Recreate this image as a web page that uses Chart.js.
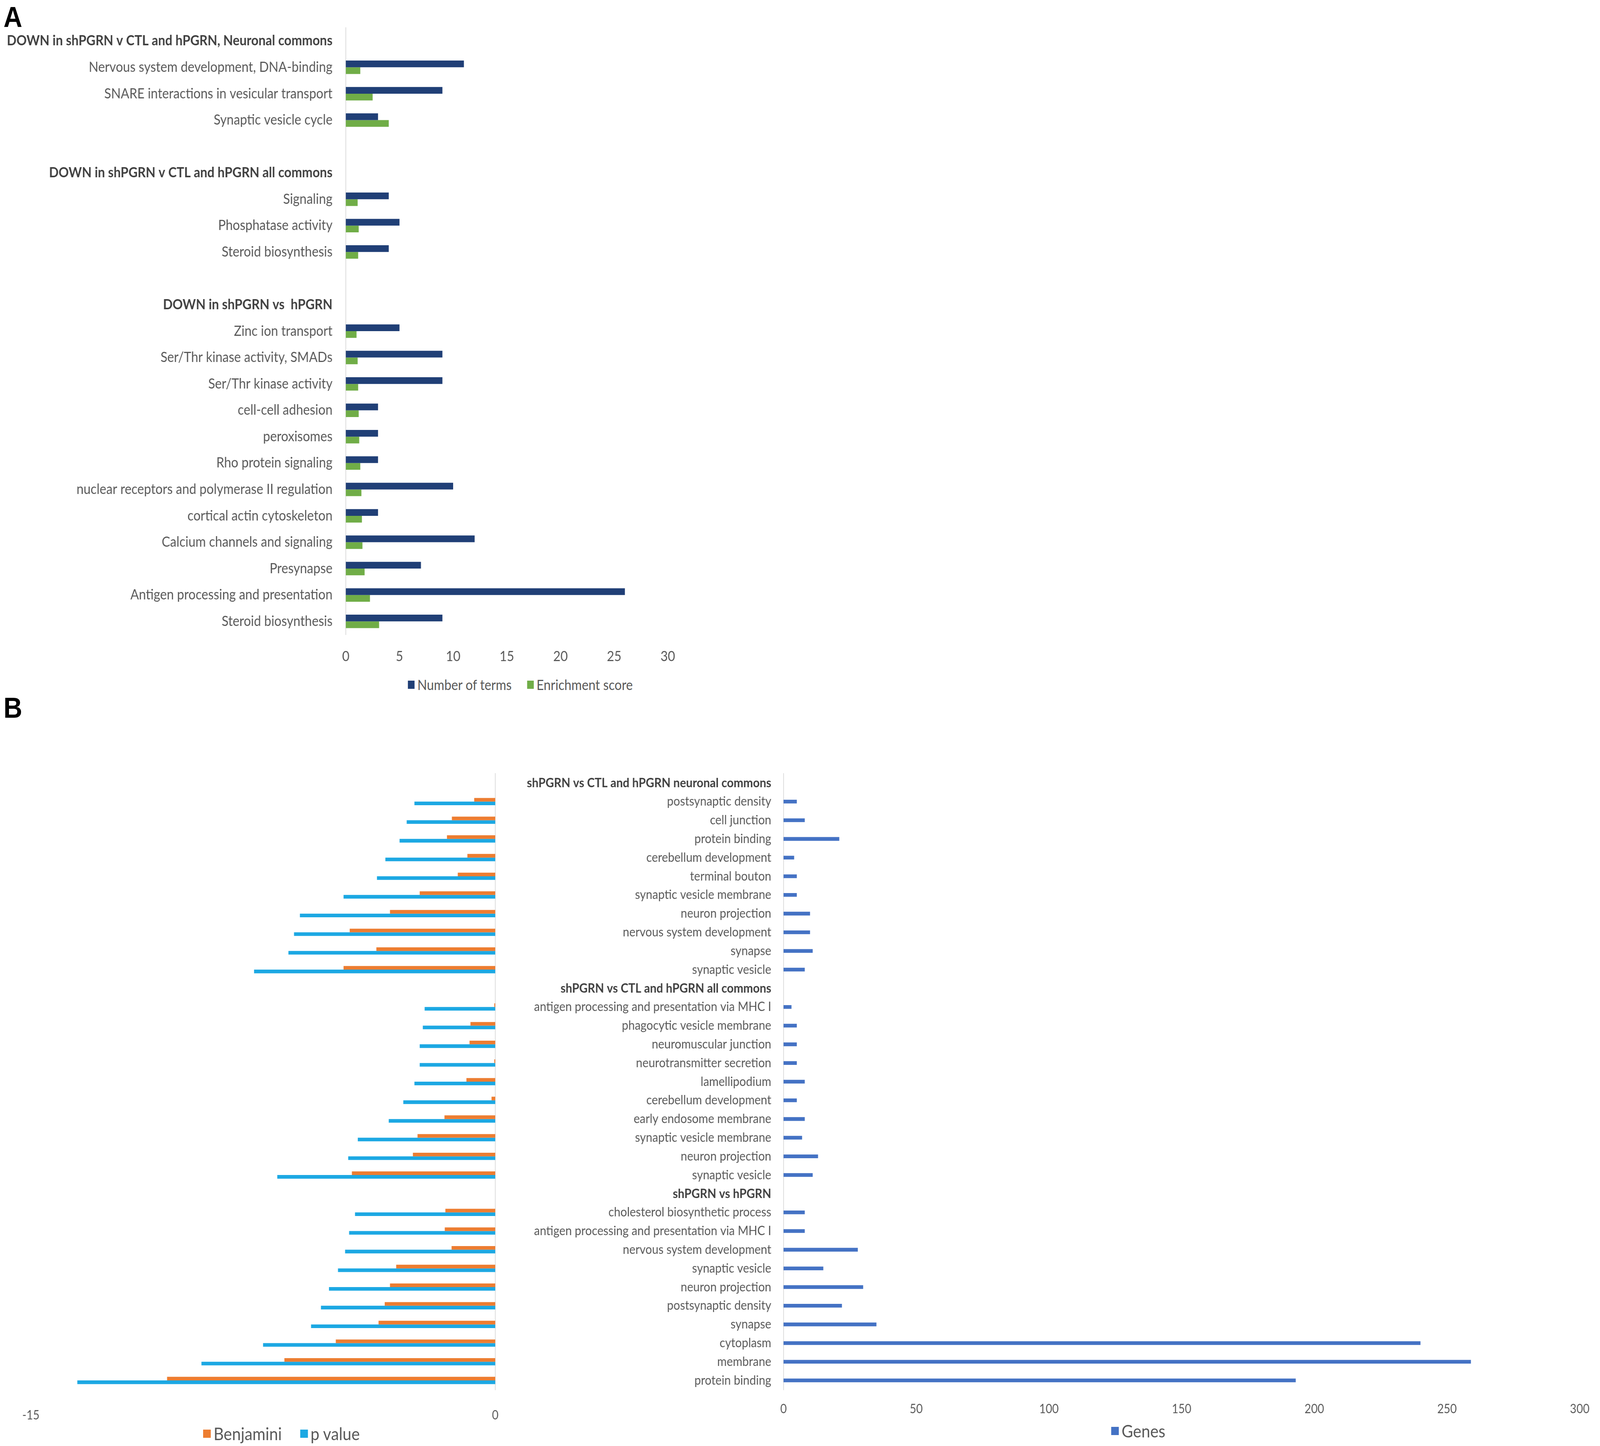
<!DOCTYPE html>
<html>
<head>
<meta charset="utf-8">
<script src="https://cdn.jsdelivr.net/npm/chart.js@4.4.1/dist/chart.umd.min.js"></script>
<style>
  html, body { margin: 0; padding: 0; background: #fff; overflow: hidden; }
  #frame { position: relative; overflow: hidden; width: 4562px; height: 3703px; }
  #page { width: 4562px; height: 3703px; position: absolute; left: 0; top: 0; transform-origin: 0 0; background: #fff; }
  canvas { position: absolute; }
  .panel { position: absolute; font: bold 74px "Liberation Sans", Arial, sans-serif; line-height: 1; color: #000; }
  .legend { position: absolute; display: flex; align-items: center; white-space: nowrap;
            color: #595959; font-family: Lato, "Open Sans", sans-serif; line-height: 1.2; }
  .legend .item { display: flex; align-items: center; }
  .legend i { display: inline-block; }
</style>
</head>
<body>
<div id="frame">
<div id="page">
  <div class="panel" style="left:10px; top:7px">A</div>
  <div class="panel" style="left:10px; top:1776px">B</div>
  <canvas id="chartA" width="1960" height="1720" style="left:0; top:0"></canvas>
  <canvas id="chartB1" width="1500" height="1760" style="left:0; top:1900px"></canvas>
  <canvas id="chartB2" width="3112" height="1760" style="left:1450px; top:1900px"></canvas>
  <div class="legend" id="legendA" style="left:1163px; top:1732px; font-size:36px"></div>
  <div class="legend" id="legendB1" style="left:579px; top:3644px; font-size:45px"></div>
  <div class="legend" id="legendB2" style="left:3168px; top:3637px; font-size:45px"></div>
</div>
</div>
<script>
// ---- panel A data ----
const termsA = [
  'DOWN in shPGRN v CTL and hPGRN, Neuronal commons',
  'Nervous system development, DNA-binding',
  'SNARE interactions in vesicular transport',
  'Synaptic vesicle cycle',
  '',
  'DOWN in shPGRN v CTL and hPGRN all commons',
  'Signaling',
  'Phosphatase activity',
  'Steroid biosynthesis',
  '',
  'DOWN in shPGRN vs  hPGRN',
  'Zinc ion transport',
  'Ser/Thr kinase activity, SMADs',
  'Ser/Thr kinase activity',
  'cell-cell adhesion',
  'peroxisomes',
  'Rho protein signaling',
  'nuclear receptors and polymerase II regulation',
  'cortical actin cytoskeleton',
  'Calcium channels and signaling',
  'Presynapse',
  'Antigen processing and presentation',
  'Steroid biosynthesis'
];
const headingsA = [0, 5, 10];
const numberOfTerms = [null, 11, 9, 3, null, null, 4, 5, 4, null, null, 5, 9, 9, 3, 3, 3, 10, 3, 12, 7, 26, 9];
const enrichmentScore = [null, 1.35, 2.5, 4.0, null, null, 1.1, 1.2, 1.15, null, null, 1.0, 1.1, 1.15, 1.2, 1.25, 1.35, 1.45, 1.5, 1.55, 1.75, 2.25, 3.1];
const ticksA = [0, 5, 10, 15, 20, 25, 30];

// ---- panel B data ----
const termsB = [
  'shPGRN vs CTL and hPGRN neuronal commons',
  'postsynaptic density', 'cell junction', 'protein binding', 'cerebellum development',
  'terminal bouton', 'synaptic vesicle membrane', 'neuron projection',
  'nervous system development', 'synapse', 'synaptic vesicle',
  'shPGRN vs CTL and hPGRN all commons',
  'antigen processing and presentation via MHC I', 'phagocytic vesicle membrane',
  'neuromuscular junction', 'neurotransmitter secretion', 'lamellipodium',
  'cerebellum development', 'early endosome membrane', 'synaptic vesicle membrane',
  'neuron projection', 'synaptic vesicle',
  'shPGRN vs hPGRN',
  'cholesterol biosynthetic process', 'antigen processing and presentation via MHC I',
  'nervous system development', 'synaptic vesicle', 'neuron projection',
  'postsynaptic density', 'synapse', 'cytoplasm', 'membrane', 'protein binding'
];
const headingsB = [0, 11, 22];
const benjamini = [null, -0.68, -1.4, -1.56, -0.9, -1.21, -2.44, -3.4, -4.7, -3.84, -4.9,
  null, -0.03, -0.8, -0.83, -0.03, -0.93, -0.12, -1.64, -2.51, -2.66, -4.63,
  null, -1.61, -1.63, -1.41, -3.2, -3.4, -3.57, -3.77, -5.15, -6.81, -10.6];
const pValue = [null, -2.61, -2.86, -3.09, -3.55, -3.82, -4.9, -6.31, -6.5, -6.68, -7.79,
  null, -2.28, -2.34, -2.44, -2.44, -2.61, -2.97, -3.44, -4.44, -4.75, -7.04,
  null, -4.53, -4.72, -4.85, -5.08, -5.37, -5.63, -5.95, -7.5, -9.49, -13.5];
const genes = [null, 5, 8, 21, 4, 5, 5, 10, 10, 11, 8,
  null, 3, 5, 5, 5, 8, 5, 8, 7, 13, 11,
  null, 8, 8, 28, 15, 30, 22, 35, 240, 259, 193];
const ticksB1 = [-15, 0];
const ticksB2 = [0, 50, 100, 150, 200, 250, 300];

// the window may be narrower than 4562 (browsers cap it), so map the
// 4562x3703 layout onto the real viewport
const sx = window.innerWidth / 4562;
const sy = window.innerHeight / 3703;
document.getElementById('page').style.transform = 'scale(' + sx + ',' + sy + ')';
const frame = document.getElementById('frame');
frame.style.width = window.innerWidth + 'px';
frame.style.height = window.innerHeight + 'px';

// ---- styles ----
const FONT = 'Lato, "Open Sans", sans-serif';
const GREY = '#595959';
const DARK = '#404040';
const AXIS = '#d9d9d9';

Chart.defaults.font.family = FONT;
Chart.defaults.color = GREY;

const base = {
  responsive: false,
  animation: false,
  indexAxis: 'y',
  devicePixelRatio: 1,
  events: []
};

function catFont(size, heads) {
  return ctx => ({ family: FONT, size: size, weight: heads.includes(ctx.index) ? 'bold' : 'normal' });
}
function catColor(heads) {
  return ctx => heads.includes(ctx.index) ? DARK : GREY;
}
function noLines() {
  return { display: false, drawTicks: false };
}

// html legend built from the chart's own legend items
function htmlLegend(chart, id, boxW, boxH, gap) {
  const el = document.getElementById(id);
  const items = Chart.defaults.plugins.legend.labels.generateLabels(chart);
  items.forEach((it, i) => {
    const item = document.createElement('span');
    item.className = 'item';
    if (i > 0) item.style.marginLeft = gap + 'px';
    const box = document.createElement('i');
    box.style.width = boxW + 'px';
    box.style.height = boxH + 'px';
    box.style.marginRight = '8px';
    box.style.background = it.fillStyle;
    item.appendChild(box);
    item.appendChild(document.createTextNode(it.text));
    el.appendChild(item);
  });
}

// ---- panel A ----
const chartA = new Chart(document.getElementById('chartA'), {
  type: 'bar',
  data: {
    labels: termsA,
    datasets: [
      { label: 'Number of terms', data: numberOfTerms, backgroundColor: '#203f76', borderWidth: 0 },
      { label: 'Enrichment score', data: enrichmentScore, backgroundColor: '#70ad47', borderWidth: 0 }
    ]
  },
  options: Object.assign({}, base, {
    datasets: { bar: { barPercentage: 1, categoryPercentage: 0.51 } },
    layout: { padding: { left: 0, right: 52, top: 71, bottom: 0 } },
    scales: {
      y: {
        grid: noLines(),
        border: { display: true, color: AXIS, width: 2 },
        ticks: { autoSkip: false, padding: 38, font: catFont(36, headingsA), color: catColor(headingsA) },
        afterFit: s => { s.width = 986; }
      },
      x: {
        min: ticksA[0],
        max: ticksA[ticksA.length - 1],
        grid: noLines(),
        border: { display: false },
        ticks: { stepSize: ticksA[1] - ticksA[0], padding: 35, color: GREY, font: { family: FONT, size: 36 } },
        afterFit: s => { s.height = 95; }
      }
    },
    plugins: { tooltip: { enabled: false }, legend: { display: false } }
  })
});
htmlLegend(chartA, 'legendA', 19, 21, 44);

// ---- panel B, left: Benjamini / p value ----
const chartB1 = new Chart(document.getElementById('chartB1'), {
  type: 'bar',
  data: {
    labels: termsB,
    datasets: [
      { label: 'Benjamini', data: benjamini, backgroundColor: '#ed7d31', borderWidth: 0 },
      { label: 'p value', data: pValue, backgroundColor: '#1ca8e3', borderWidth: 0 }
    ]
  },
  options: Object.assign({}, base, {
    datasets: { bar: { barPercentage: 1, categoryPercentage: 0.39 } },
    layout: { padding: { left: 88, right: 86, top: 81, bottom: 0 } },
    scales: {
      y: {
        position: 'right',
        grid: noLines(),
        border: { display: true, color: AXIS, width: 2 },
        ticks: { display: false, autoSkip: false },
        afterFit: s => { s.width = 2; }
      },
      x: {
        min: ticksB1[0],
        max: ticksB1[ticksB1.length - 1],
        grid: noLines(),
        border: { display: false },
        ticks: { stepSize: ticksB1[1] - ticksB1[0], padding: 46, color: GREY, font: { family: FONT, size: 32 } },
        afterFit: s => { s.height = 101; }
      }
    },
    plugins: { tooltip: { enabled: false }, legend: { display: false } }
  })
});
htmlLegend(chartB1, 'legendB1', 22, 21, 52);

// ---- panel B, right: Genes ----
const chartB2 = new Chart(document.getElementById('chartB2'), {
  type: 'bar',
  data: {
    labels: termsB,
    datasets: [
      { label: 'Genes', data: genes, backgroundColor: '#4472c4', borderWidth: 0 }
    ]
  },
  options: Object.assign({}, base, {
    datasets: { bar: { barPercentage: 1, categoryPercentage: 0.2 } },
    layout: { padding: { left: 0, right: 35, top: 81, bottom: 0 } },
    scales: {
      y: {
        grid: noLines(),
        border: { display: true, color: AXIS, width: 2 },
        ticks: { autoSkip: false, padding: 35, font: catFont(33, headingsB), color: catColor(headingsB) },
        afterFit: s => { s.width = 784; }
      },
      x: {
        min: ticksB2[0],
        max: ticksB2[ticksB2.length - 1],
        grid: noLines(),
        border: { display: false },
        ticks: { stepSize: ticksB2[1] - ticksB2[0], padding: 30, color: GREY, font: { family: FONT, size: 32 } },
        afterFit: s => { s.height = 101; }
      }
    },
    plugins: { tooltip: { enabled: false }, legend: { display: false } }
  })
});
htmlLegend(chartB2, 'legendB2', 22, 21, 52);
</script>
</body>
</html>
